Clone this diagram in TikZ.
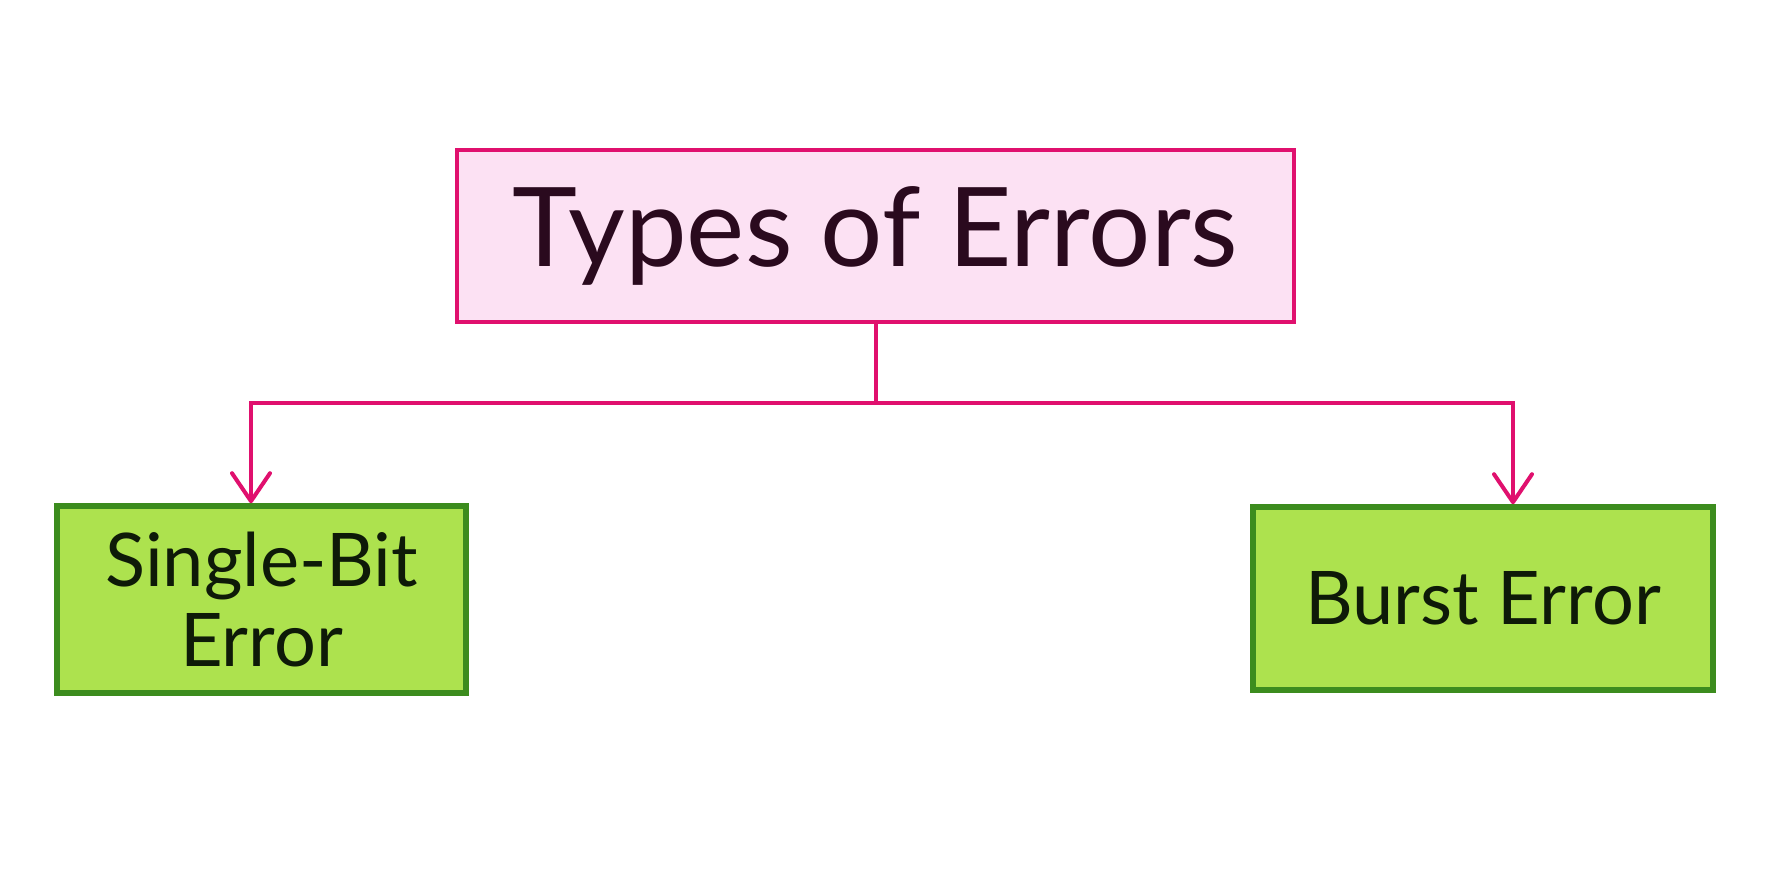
\documentclass[tikz,border=0pt]{standalone}
\usepackage{fontspec}
\setmainfont{Lato}
\usetikzlibrary{arrows.meta}
\definecolor{pinkline}{HTML}{E0106E}
\definecolor{pinkfill}{HTML}{FCE1F3}
\definecolor{greenline}{HTML}{3C8C1E}
\definecolor{greenfill}{HTML}{ADE24E}
\definecolor{inkpurple}{HTML}{2A0A1E}
\definecolor{inkgreen}{HTML}{0E1A08}
\tikzset{
  topbox/.style={draw=pinkline, fill=pinkfill, line width=2.4pt, minimum width=418.5pt, minimum height=86pt, inner sep=0pt, text=inkpurple, font=\fontsize{55}{60}\selectfont},
  leafbox/.style={draw=greenline, fill=greenfill, line width=2.8pt, inner sep=0pt, text=inkgreen, align=center, font=\fontsize{37}{40}\selectfont},
  conn/.style={draw=pinkline, line width=2pt, line cap=round, line join=miter},
  tip/.style={-{Straight Barb[length=14pt, width=19pt, line width=2pt, round]}}
}
\begin{document}
\begin{tikzpicture}[x=0.5pt, y=-0.5pt]
\useasboundingbox[fill=white] (0,0) rectangle (1774,887);
\node[topbox] (top) at (875.5,236) {Types of Errors};
\node[leafbox, minimum width=204.5pt, minimum height=93.5pt] (left) at (261.5,599.5) {Single-Bit\\Error};
\node[leafbox, minimum width=230pt, minimum height=91.5pt] (right) at (1483,598.5) {Burst Error};
\coordinate (j) at (875.5,403);
\draw[conn] (top.south) -- (j);
\draw[conn, tip] (j) -| ([xshift=-5.25pt]left.north);
\draw[conn, tip] (j) -| ([xshift=15pt]right.north);
\end{tikzpicture}
\end{document}
